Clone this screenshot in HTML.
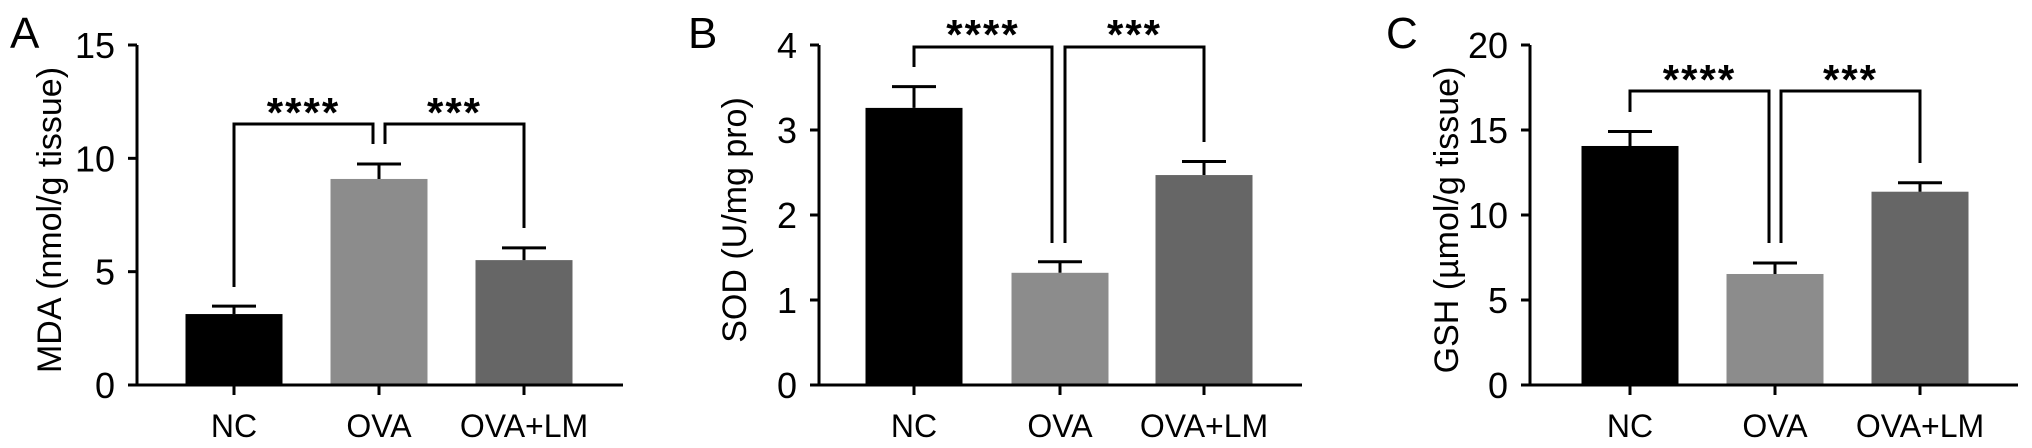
<!DOCTYPE html>
<html><head><meta charset="utf-8"><style>
html,body{margin:0;padding:0;background:#fff;}
svg{display:block;font-family:"Liberation Sans",Arial,sans-serif;}
</style></head><body>
<svg id="fig" width="2032" height="448" viewBox="0 0 2032 448" xmlns="http://www.w3.org/2000/svg"></svg>
<script>
const categories = ["NC", "OVA", "OVA+LM"];
const barColors = ["#000000", "#8c8c8c", "#666666"];
const mdaMeans = [3.13, 9.09, 5.51];
const mdaErrors = [0.35, 0.66, 0.54];
const mdaTicks = [0, 5, 10, 15];
const sodMeans = [3.26, 1.32, 2.47];
const sodErrors = [0.25, 0.13, 0.16];
const sodTicks = [0, 1, 2, 3, 4];
const gshMeans = [14.06, 6.53, 11.37];
const gshErrors = [0.85, 0.65, 0.53];
const gshTicks = [0, 5, 10, 15, 20];
const sigLabels = ["****", "***"];

const NS = "http://www.w3.org/2000/svg";
const svg = document.getElementById("fig");
function mk(tag, attrs, parent, text) {
  const e = document.createElementNS(NS, tag);
  for (const k in attrs) e.setAttribute(k, attrs[k]);
  if (text !== undefined) e.textContent = text;
  (parent || svg).appendChild(e);
  return e;
}

const panels = [
  {id:"mda", letter:"A", lx:10, axisX:137, axisEnd:623, centers:[234,379,524], ymax:15,
   means:mdaMeans, errs:mdaErrors, ticks:mdaTicks, title:"MDA (nmol/g tissue)", titleX:49,
   brY:124, legs:[287,144,144,228], midX:[373,385], starsY:103},
  {id:"sod", letter:"B", lx:688, axisX:819, axisEnd:1302, centers:[914,1060,1204], ymax:4,
   means:sodMeans, errs:sodErrors, ticks:sodTicks, title:"SOD (U/mg pro)", titleX:734,
   brY:47, legs:[67,243,243,142], midX:[1052,1065], starsY:25},
  {id:"gsh", letter:"C", lx:1386, axisX:1530, axisEnd:2018, centers:[1630,1775,1920], ymax:20,
   means:gshMeans, errs:gshErrors, ticks:gshTicks, title:"GSH (\u00b5mol/g tissue)", titleX:1446,
   brY:91, legs:[112,243,243,163], midX:[1769,1781], starsY:70}
];
const Y0 = 385, YTOP = 45, BW = 97, CAP = 22;

panels.forEach(p => {
  const g = mk("g", {});
  
  
  const y = v => Y0 - (v / p.ymax) * (Y0 - YTOP);

  const letter = mk("text", {x:p.lx, y:48, "font-size":44}, g, p.letter);
  
  

  p.means.forEach((m, i) => {
    const cx = p.centers[i];
    const r = mk("rect", {x:cx - BW/2, y:y(m), width:BW, height:Y0 - y(m), fill:barColors[i]}, g);
    
    
    const top = y(m + p.errs[i]);
    const eb = mk("path", {d:`M${cx},${y(m)}V${top}M${cx-CAP},${top}H${cx+CAP}`, stroke:"#000", "stroke-width":3, fill:"none"}, g);
    
    
    const xl = mk("text", {x:cx, y:437, "font-size":32, "text-anchor":"middle"}, g, categories[i]);
    
    
    const xt = mk("line", {x1:cx, x2:cx, y1:Y0, y2:Y0 + 10, stroke:"#000", "stroke-width":3}, g);
    
    
  });

  const ya = mk("line", {x1:p.axisX, x2:p.axisX, y1:YTOP, y2:Y0 + 1.5, stroke:"#000", "stroke-width":3}, g);
  
  
  const xa = mk("line", {x1:p.axisX - 8, x2:p.axisEnd, y1:Y0, y2:Y0, stroke:"#000", "stroke-width":3}, g);
  
  
  p.ticks.forEach(t => {
    const tk = mk("line", {x1:p.axisX - 9, x2:p.axisX, y1:y(t), y2:y(t), stroke:"#000", "stroke-width":3}, g);
    
    
    const tl = mk("text", {x:p.axisX - 22, y:y(t) + 13, "font-size":36, "text-anchor":"end"}, g, String(t));
    
    
  });
  const tt = mk("text", {x:0, y:0, "font-size":34, "text-anchor":"middle", transform:`translate(${p.titleX + 12},220) rotate(-90)`}, g, p.title);
  
  

  const c = p.centers;
  const b1 = mk("path", {d:`M${c[0]},${p.legs[0]}V${p.brY}H${p.midX[0]}V${p.legs[1]}`, stroke:"#000", "stroke-width":3, fill:"none"}, g);
  
  
  const b2 = mk("path", {d:`M${p.midX[1]},${p.legs[2]}V${p.brY}H${c[2]}V${p.legs[3]}`, stroke:"#000", "stroke-width":3, fill:"none"}, g);
  
  
  const s1 = mk("text", {x:(c[0] + p.midX[0]) / 2, y:p.starsY + 24, "font-size":42, "font-weight":"bold", "text-anchor":"middle", "letter-spacing":"2"}, g, sigLabels[0]);
  
  
  const s2 = mk("text", {x:(p.midX[1] + c[2]) / 2, y:p.starsY + 24, "font-size":42, "font-weight":"bold", "text-anchor":"middle", "letter-spacing":"2"}, g, sigLabels[1]);
  
  
});
</script>
</body></html>
